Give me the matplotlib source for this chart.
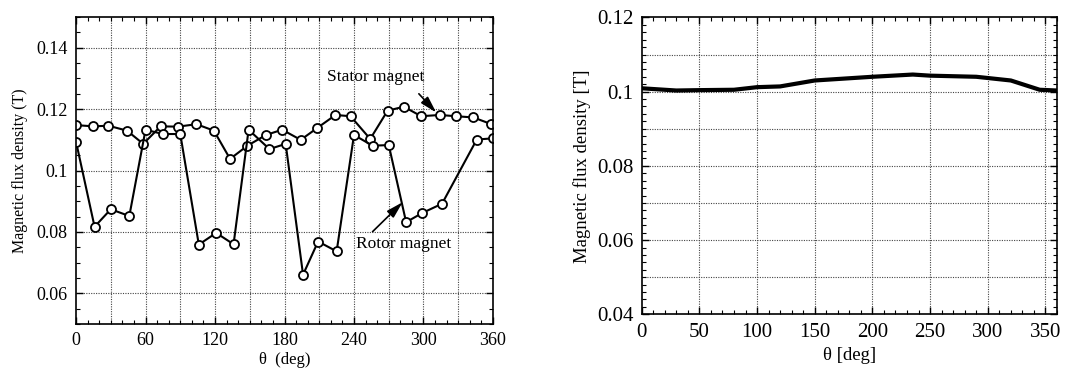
import matplotlib
matplotlib.use('Agg')
import matplotlib.pyplot as plt
from matplotlib.ticker import MultipleLocator, FuncFormatter

# Left panel: measured points, stator and rotor magnets
stator_theta = [0, 15, 28, 44, 58, 73, 88, 104, 119, 133, 148, 164, 178,
                194, 208, 224, 237, 254, 269, 283, 298, 314, 328, 343, 358]
stator_b = [0.1148, 0.1144, 0.1146, 0.1130, 0.1087, 0.1144, 0.1143, 0.1151,
            0.1130, 0.1038, 0.1081, 0.1116, 0.1133, 0.1100, 0.1138, 0.1181,
            0.1177, 0.1103, 0.1195, 0.1208, 0.1177, 0.1181, 0.1177, 0.1173,
            0.1152]
rotor_theta = [0, 16, 30, 46, 60, 75, 90, 106, 121, 136, 149, 167, 181,
               196, 209, 225, 240, 256, 270, 285, 299, 316, 346, 360]
rotor_b = [0.1094, 0.0817, 0.0874, 0.0852, 0.1133, 0.1119, 0.1119, 0.0759,
           0.0797, 0.0760, 0.1133, 0.1070, 0.1087, 0.0661, 0.0769, 0.0737,
           0.1116, 0.1081, 0.1083, 0.0832, 0.0862, 0.0892, 0.1101, 0.1105]

# Right panel: smooth curve
curve_theta = [0, 30, 50, 80, 100, 120, 150, 200, 235, 250, 290, 320, 345, 360]
curve_b = [0.1009, 0.1003, 0.1004, 0.1005, 0.1012, 0.1014, 0.1030, 0.1040,
           0.1046, 0.1043, 0.1040, 0.1030, 0.1005, 0.1003]

plt.rcParams['font.family'] = ['Liberation Serif', 'DejaVu Serif']

fig = plt.figure(figsize=(10.65, 3.7), dpi=100)
grid_kw = dict(color='#444444', linestyle=(0, (1, 1.2)), linewidth=0.8)
arrow_kw = dict(arrowstyle='-|>,head_length=1.0,head_width=0.28',
                color='black', lw=1.2, shrinkA=0, shrinkB=0)


def style_axes(ax, fs):
    ax.tick_params(which='both', direction='in', top=True, right=True,
                   labelsize=fs, pad=6)
    ax.tick_params(which='major', length=5, width=1)
    ax.tick_params(which='minor', length=3, width=0.8)
    for s in ax.spines.values():
        s.set_linewidth(1.2)
    ax.yaxis.set_major_formatter(FuncFormatter(lambda v, p: '%g' % round(v, 3)))


# ---- left plot
ax1 = fig.add_axes([0.0714, 0.124, 0.3915, 0.830])
ax1.plot(stator_theta, stator_b, '-o', color='black', lw=1.5, ms=6.5,
         mfc='white', mew=1.3)
ax1.plot(rotor_theta, rotor_b, '-o', color='black', lw=1.5, ms=6.5,
         mfc='white', mew=1.3)
ax1.set_xlim(0, 360)
ax1.set_ylim(0.05, 0.15)
ax1.set_xticks(range(0, 361, 60))
ax1.xaxis.set_minor_locator(MultipleLocator(10))
ax1.set_yticks([0.06, 0.08, 0.10, 0.12, 0.14])
ax1.yaxis.set_minor_locator(MultipleLocator(0.005))
for t in range(30, 360, 30):
    ax1.axvline(t, **grid_kw, zorder=0)
for v in [0.06, 0.08, 0.10, 0.12, 0.14]:
    ax1.axhline(v, **grid_kw, zorder=0)
style_axes(ax1, 13)
ax1.set_xlabel('θ  (deg)', fontsize=12, labelpad=2)
ax1.set_ylabel('Magnetic flux density (T)', fontsize=11.5, labelpad=6)

ax1.text(217, 0.1304, 'Stator magnet', fontsize=12.5, ha='left', va='center')
ax1.annotate('', xy=(311, 0.1189), xytext=(296, 0.1250), arrowprops=arrow_kw)
ax1.text(242, 0.0762, 'Rotor magnet', fontsize=12.5, ha='left', va='center')
ax1.annotate('', xy=(282, 0.0897), xytext=(256, 0.0801), arrowprops=arrow_kw)

# ---- right plot
ax2 = fig.add_axes([0.6025, 0.1505, 0.390, 0.8025])
ax2.plot(curve_theta, curve_b, '-', color='black', lw=3)
ax2.set_xlim(0, 360)
ax2.set_ylim(0.04, 0.12)
ax2.set_xticks(range(0, 351, 50))
ax2.xaxis.set_minor_locator(MultipleLocator(10))
ax2.set_yticks([0.04, 0.06, 0.08, 0.10, 0.12])
ax2.yaxis.set_minor_locator(MultipleLocator(0.002))
for t in range(50, 351, 50):
    ax2.axvline(t, **grid_kw, zorder=0)
for v in [0.05, 0.06, 0.07, 0.08, 0.09, 0.10, 0.11]:
    ax2.axhline(v, **grid_kw, zorder=0)
style_axes(ax2, 15)
ax2.set_xlabel('θ [deg]', fontsize=13.5, labelpad=4)
ax2.set_ylabel('Magnetic flux density [T]', fontsize=13.5, labelpad=4)

fig.savefig('out.png', dpi=100)
